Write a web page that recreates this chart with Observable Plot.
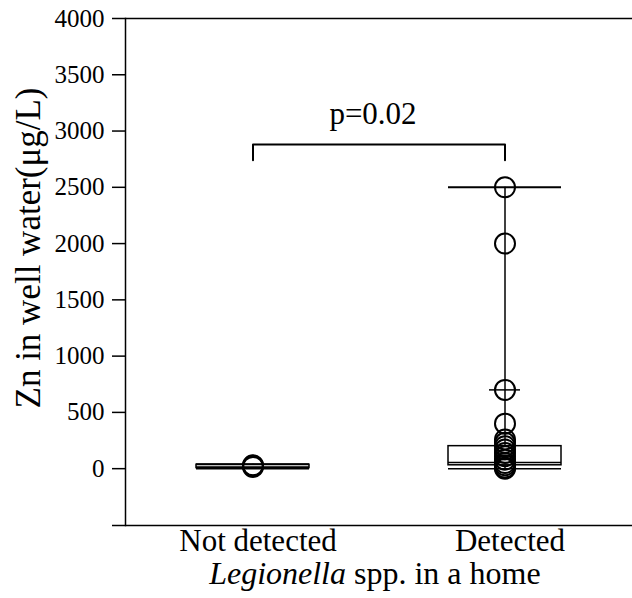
<!DOCTYPE html>
<html>
<head>
<meta charset="utf-8">
<script src="https://cdn.jsdelivr.net/npm/d3@7"></script>
<script src="https://cdn.jsdelivr.net/npm/@observablehq/plot@0.6"></script>
<style>
  html, body { margin: 0; padding: 0; background: #fff; }
</style>
</head>
<body>
<div id="chart"></div>
<script>
// ---- data ----
const groups = ["Not detected", "Detected"];
const boxMin    = [0, 0];
const boxQ1     = [5, 30];
const boxMedian = [15, 55];
const boxQ3     = [35, 200];
const boxMax    = [40, 2500];
const pointsNotDetected = [15, 25, 30];
const pointsDetected = [2500, 2000, 700, 400, 260, 230, 200, 170, 140, 110, 80, 50, 30, 10, 0];
const markDetected = 700;   // short horizontal marker on the Detected whisker
const yTicks = [0, 500, 1000, 1500, 2000, 2500, 3000, 3500, 4000];
const yBottom = -505;
const yTop = 4000;
const bracketLow = 2740;
const bracketHigh = 2880;
const pValueText = "p=0.02";
const pValueY = 3150;
const yLabel = "Zn in well water(μg/L)";
const xLabelItalic = "Legionella";
const xLabelRest = " spp. in a home";

// ---- tables ----
const boxes = groups.map((g, i) => ({
  g, min: boxMin[i], q1: boxQ1[i], med: boxMedian[i], q3: boxQ3[i], max: boxMax[i]
}));
const points = [
  ...pointsNotDetected.map(v => ({g: groups[0], v})),
  ...pointsDetected.map(v => ({g: groups[1], v}))
];
const bracket = [
  {g: groups[0], v: bracketLow},
  {g: groups[0], v: bracketHigh},
  {g: groups[1], v: bracketHigh},
  {g: groups[1], v: bracketLow}
];

const FONT = "'Liberation Serif', 'Times New Roman', serif";

const chart = Plot.plot({
  width: 632,
  height: 598,
  marginLeft: 125,
  marginRight: 0,
  marginTop: 18,
  marginBottom: 73,
  style: {fontFamily: FONT, background: "#fff", color: "#000"},
  x: {type: "band", domain: groups, range: [195.5, 561.5], paddingInner: 0.553, paddingOuter: 0, align: 0.5, label: null},
  y: {domain: [yBottom, yTop], label: null},
  marks: [
    // frame lines
    Plot.ruleY([yBottom, yTop], {stroke: "#000", strokeWidth: 1.5}),
    Plot.frame({anchor: "left", stroke: "#000", strokeWidth: 1.5}),
    Plot.axisY({
      ticks: [...yTicks, yBottom], tickSize: 13, tickPadding: 8, fontSize: 25,
      tickFormat: d => d < 0 ? "" : String(d), label: null, strokeWidth: 1.5
    }),
    Plot.axisX({tickSize: 0, tickPadding: 3, fontSize: 31, label: null, dx: 5}),
    // whiskers
    Plot.ruleX(boxes, {x: "g", y1: "q3", y2: "max", stroke: "#000", strokeWidth: 1.5}),
    Plot.ruleX(boxes, {x: "g", y1: "min", y2: "q1", stroke: "#000", strokeWidth: 1.5}),
    // boxes
    Plot.barY(boxes, {x: "g", y1: "q1", y2: "q3", fill: "#fff", stroke: "#000", strokeWidth: 1.5}),
    Plot.tickY(boxes, {x: "g", y: "med", stroke: "#000", strokeWidth: 1.5}),
    Plot.tickY(boxes, {x: "g", y: "min", stroke: "#000", strokeWidth: 1.5}),
    Plot.tickY(boxes, {x: "g", y: "max", stroke: "#000", strokeWidth: 2}),
    Plot.tickY([{g: groups[1], v: markDetected}], {x: "g", y: "v", stroke: "#000", strokeWidth: 1.5, insetLeft: 41, insetRight: 41}),
    // points
    Plot.dot(points, {x: "g", y: "v", r: 10, stroke: "#000", strokeWidth: 2, fill: "none"}),
    // significance bracket
    Plot.line(bracket, {x: "g", y: "v", stroke: "#000", strokeWidth: 2, strokeLinejoin: "round"}),
    Plot.text([pValueText], {y: pValueY, text: d => d, fontSize: 31, dx: -6, fill: "#000"}),
    // axis labels
    Plot.text([yLabel], {frameAnchor: "left", textAnchor: "middle", lineAnchor: "middle", rotate: -90, dx: -97, dy: -24, fontSize: 35, text: d => d, fill: "#000"}),
    Plot.text([xLabelItalic], {frameAnchor: "bottom", textAnchor: "end", lineAnchor: "middle", dx: -33, dy: 48, fontSize: 32, fontStyle: "italic", text: d => d, fill: "#000"}),
    Plot.text([xLabelRest], {frameAnchor: "bottom", textAnchor: "start", lineAnchor: "middle", dx: -33, dy: 48, fontSize: 32, text: d => d, fill: "#000"})
  ]
});
document.getElementById("chart").appendChild(chart);
</script>
</body>
</html>
